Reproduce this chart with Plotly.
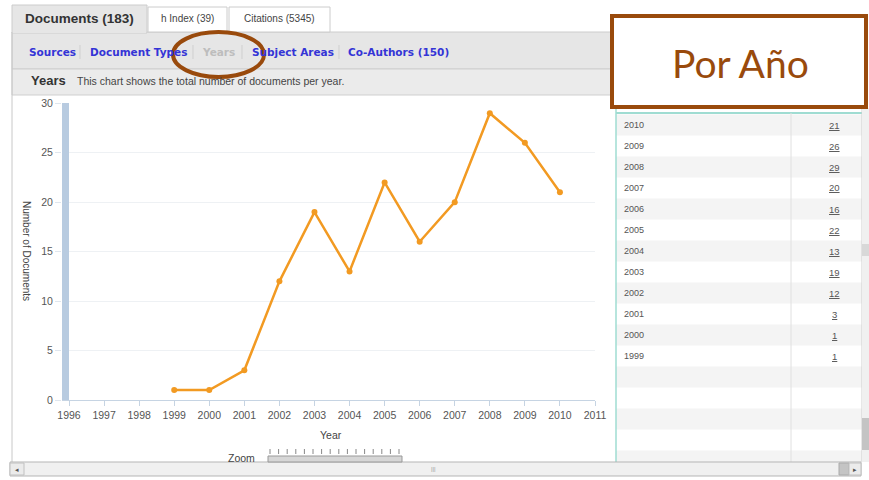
import plotly.graph_objects as go

# ---- data ----
years = [1999, 2000, 2001, 2002, 2003, 2004, 2005, 2006, 2007, 2008, 2009, 2010]
documents = [1, 1, 3, 12, 19, 13, 22, 16, 20, 29, 26, 21]
x_ticks = list(range(1996, 2012))
y_ticks = [0, 5, 10, 15, 20, 25, 30]
tabs = ["Documents (183)", "h Index (39)", "Citations (5345)"]
links = ["Sources", "Document Types", "Years", "Subject Areas", "Co-Authors (150)"]

W, H = 869, 480
def px(x):
    return x / W
def py(y):
    return 1 - y / H

ORANGE = "#f29a22"
BROWN = "#994a0c"
LINK = "#3434d6"

fig = go.Figure()
fig.add_trace(go.Scatter(
    x=years, y=documents, mode="lines+markers",
    line=dict(color=ORANGE, width=2.5),
    marker=dict(color=ORANGE, size=6, symbol="circle"),
    hoverinfo="x+y", showlegend=False,
))

shapes = []
ann = []

def rect(x0, y0, x1, y1, fill=None, line=None, lw=1, layer="below"):
    shapes.append(dict(type="rect", xref="paper", yref="paper",
                       x0=px(x0), x1=px(x1), y0=py(y1), y1=py(y0),
                       fillcolor=fill or "rgba(0,0,0,0)",
                       line=dict(color=line or "rgba(0,0,0,0)", width=lw if line else 0),
                       layer=layer))

def hline(x0, x1, y, color, w=1, layer="below"):
    shapes.append(dict(type="line", xref="paper", yref="paper",
                       x0=px(x0), x1=px(x1), y0=py(y), y1=py(y),
                       line=dict(color=color, width=w), layer=layer))

def vline(x, y0, y1, color, w=1, layer="below"):
    shapes.append(dict(type="line", xref="paper", yref="paper",
                       x0=px(x), x1=px(x), y0=py(y0), y1=py(y1),
                       line=dict(color=color, width=w), layer=layer))

def text(x, y, s, size=10, color="#333", family="Liberation Sans", xanchor="left", bold=False, angle=0):
    if bold:
        s = "<b>" + s + "</b>"
    ann.append(dict(x=px(x), y=py(y), xref="paper", yref="paper", text=s, showarrow=False,
                    xanchor=xanchor, yanchor="middle", textangle=angle,
                    font=dict(size=size, color=color, family=family)))

# outer frame / panels
rect(12, 32, 640, 69, fill="#e6e6e6", line="#cccccc")
rect(12, 69, 640, 95, fill="#ebebeb", line="#cfcfcf")
vline(12, 32, 462, "#c8c8c8")

# tabs
tab_x = [(12, 147), (148, 227), (229, 330)]
for i, (t, (a, b)) in enumerate(zip(tabs, tab_x)):
    if i == 0:
        rect(a, 5, b, 33, fill="#e6e6e6", line="#cccccc")
        hline(a + 1, b - 1, 32, "#e6e6e6", 2)
        text((a + b) / 2, 19, t, size=13.5, color="#333", bold=True, xanchor="center")
    else:
        rect(a, 7, b, 32, fill="#ffffff", line="#cccccc")
        text((a + b) / 2, 19, t, size=10, color="#444", xanchor="center")

# links
link_x = [27, 88, 200, 250, 346]
for i, (l, x) in enumerate(zip(links, link_x)):
    col = "#bdbdbd" if l == "Years" else LINK
    text(x, 52, l, size=10.5, color=col, family="DejaVu Sans", bold=True)
for sx in [80, 193, 242, 339]:
    vline(sx, 45, 59, "#cfcfcf")

# Years header
text(29, 81, "Years", size=13, color="#333", bold=True)
text(75, 81, "This chart shows the total number of documents per year.", size=10.5, color="#444")

# axis titles
text(331, 435, "Year", size=10.5, color="#444", xanchor="center")
text(27, 251, "Number of Documents", size=10, color="#444", xanchor="center", angle=90)

# left blue navigator bar
rect(62, 103, 69, 400, fill="#b8cbe0", layer="above")

# table on right
row_h = 21
top = 114.5
n_rows = 17
for r in range(n_rows):
    y0 = top + r * row_h
    y1 = min(y0 + row_h, 462)
    if r % 2 == 0:
        rect(616, y0, 862, y1, fill="#f4f4f4")
hline(616, 862, 113, "#9fdcd2", 2)
vline(616, 108, 462, "#9fdcd2", 1.5)
vline(791, 113, 462, "#e0e0e0")
vline(862, 108, 462, "#cfcfcf")
for i, (yr, d) in enumerate(zip(reversed(years), reversed(documents))):
    yc = top + i * row_h + row_h / 2
    text(622, yc, str(yr), size=9, color="#555")
    text(834, yc, "<u>" + str(d) + "</u>", size=9.5, color="#555", xanchor="center")

# vertical scrollbar
rect(862, 108, 869, 462, fill="#f0f0f0")
rect(862, 418, 869, 450, fill="#c4c4c4")
rect(862, 244, 869, 256, fill="#d8d8d8")

# bottom scrollbar
rect(10, 462, 861, 476, fill="#f0f0f0", line="#b5b5b5")
rect(10, 463, 24, 475, fill="#ebebeb", line="#c0c0c0")
rect(839, 463, 849, 475, fill="#c4c4c4", line="#aaaaaa")
rect(849, 463, 861, 475, fill="#ebebeb", line="#c0c0c0")
text(17, 469, "◂", size=7, color="#555", xanchor="center")
text(855, 469, "▸", size=7, color="#555", xanchor="center")
text(433, 469, "|||", size=6, color="#999", xanchor="center")

# zoom control
text(241, 458, "Zoom", size=10.5, color="#444", xanchor="center")
for k in range(16):
    xx = 270 + k * 8.6
    vline(xx, 449, 454, "#888888")
rect(268, 456, 402, 462, fill="#d6d6d6", line="#999999")

# highlight ellipse and label box
shapes.append(dict(type="circle", xref="paper", yref="paper",
                   x0=px(173), x1=px(264), y0=py(77), y1=py(32),
                   line=dict(color=BROWN, width=4), layer="above"))
rect(612, 16, 866, 107, fill="#ffffff", line=BROWN, lw=4, layer="above")
ann.append(dict(x=px(740), y=py(63), xref="paper", yref="paper", text="Por Año",
                showarrow=False, xanchor="center", yanchor="middle",
                font=dict(size=39, color=BROWN, family="Lato")))

fig.update_layout(
    width=W, height=H, margin=dict(l=0, r=0, t=0, b=0, pad=0, autoexpand=False),
    paper_bgcolor="#ffffff", plot_bgcolor="#ffffff", showlegend=False,
    shapes=shapes, annotations=ann,
    xaxis=dict(domain=[px(62), px(595)], range=[1995.8, 2011], automargin=False,
               tickvals=x_ticks, ticktext=[str(t) for t in x_ticks],
               showgrid=False, zeroline=False, showline=True, linecolor="#c6d4e3",
               ticks="outside", ticklen=5, tickcolor="#c6d4e3",
               tickfont=dict(size=10.5, color="#555", family="Liberation Sans")),
    yaxis=dict(domain=[py(400), py(103.3)], range=[0, 30], automargin=False,
               tickvals=y_ticks, showgrid=True, gridcolor="#eef1f4", zeroline=False,
               showline=False, ticks="outside", ticklen=6, tickcolor="#dfe6ee",
               tickfont=dict(size=10.5, color="#555", family="Liberation Sans")),
)

post = ("var gd=document.getElementById('{plot_id}');"
        "gd.style.position='fixed';gd.style.left='0px';gd.style.top='0px';"
        "document.body.style.margin='0';document.body.style.overflow='hidden';")
fig.write_html("out.html", config={"displayModeBar": False}, post_script=post)
